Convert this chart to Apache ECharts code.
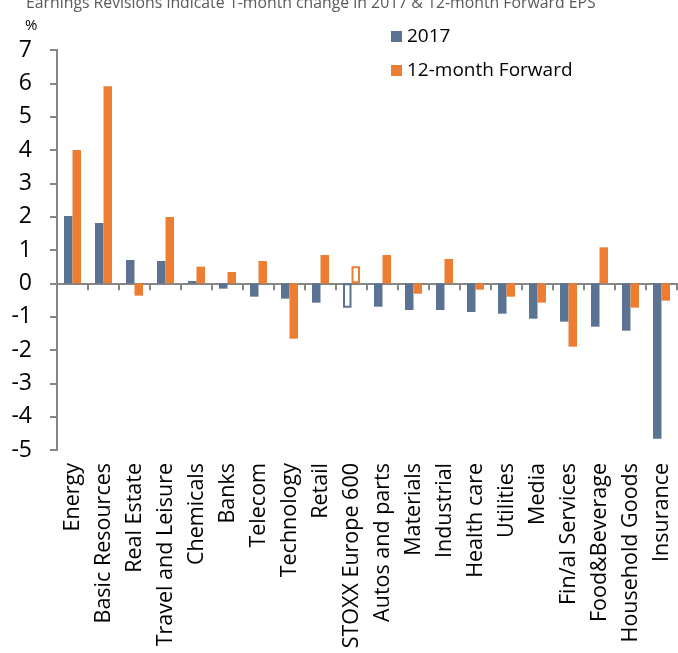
<!DOCTYPE html>
<html>
<head>
<meta charset="utf-8">
<script src="https://cdn.jsdelivr.net/npm/echarts@6/dist/echarts.min.js"></script>
<style>
  html, body { margin: 0; padding: 0; background: #fff; }
  #chart { width: 678px; height: 653px; }
</style>
</head>
<body>
<div id="chart"></div>
<script>
// data
const categories = ['Energy', 'Basic Resources', 'Real Estate', 'Travel and Leisure', 'Chemicals',
  'Banks', 'Telecom', 'Technology', 'Retail', 'STOXX Europe 600', 'Autos and parts', 'Materials',
  'Industrial', 'Health care', 'Utilities', 'Media', 'Fin/al Services', 'Food&Beverage',
  'Household Goods', 'Insurance']
const rev2017 = [2.02, 1.81, 0.7, 0.67, 0.07, -0.16, -0.4, -0.46, -0.58, -0.73, -0.7, -0.8,
  -0.8, -0.86, -0.91, -1.06, -1.15, -1.3, -1.42, -4.66]
const revFwd = [4.0, 5.91, -0.37, 1.99, 0.5, 0.34, 0.67, -1.66, 0.85, 0.51, 0.85, -0.31,
  0.73, -0.19, -0.4, -0.58, -1.9, 1.08, -0.73, -0.52]
const yTicks = [-5, -4, -3, -2, -1, 0, 1, 2, 3, 4, 5, 6, 7]

const blue = '#5b7393'
const orange = '#ed7d31'
const axisGray = '#858585'
const font = '"Open Sans", Lato, sans-serif'

// the index (STOXX Europe 600) bars are drawn hollow
const hollow = 'STOXX Europe 600'
const toItems = (vals, color) => vals.map((v, i) => categories[i] === hollow
  ? { value: v, itemStyle: { color: '#fff', borderColor: color, borderWidth: 2 } }
  : v)

const chart = echarts.init(document.getElementById('chart'))

const option = {
  animation: false,
  textStyle: { fontFamily: font },
  title: {
    text: 'Earnings Revisions indicate 1-month change in 2017 & 12-month Forward EPS',
    left: 21,
    top: -10,
    textStyle: { fontSize: 15.8, fontWeight: 'normal', color: '#595959', fontFamily: font }
  },
  graphic: [{
    type: 'text',
    left: 25,
    top: 18,
    style: { text: '%', fontSize: 15, fill: '#000', fontFamily: font }
  }],
  legend: {
    orient: 'vertical',
    left: 386,
    top: 22,
    itemWidth: 11,
    itemHeight: 11,
    itemGap: 15,
    icon: 'rect',
    textStyle: { fontSize: 19, color: '#000', fontFamily: font },
    data: ['2017', '12-month Forward']
  },
  // fixed plot box, labels are allowed to run off the bottom like in the source
  grid: { left: 57, top: 50, width: 620, height: 400, containLabel: false, outerBoundsMode: 'none' },
  xAxis: {
    type: 'category',
    data: categories,
    axisLine: { onZero: true, lineStyle: { color: axisGray, width: 2 } },
    axisTick: { show: true, length: 7, lineStyle: { color: axisGray, width: 2 } },
    axisLabel: {
      rotate: 90,
      interval: 0,
      margin: 13,
      fontSize: 21.5,
      color: '#000',
      fontFamily: font
    }
  },
  yAxis: {
    type: 'value',
    min: yTicks[0],
    max: yTicks[yTicks.length - 1],
    interval: 1,
    axisLine: { show: true, lineStyle: { color: axisGray, width: 2 } },
    axisTick: { show: true, length: 7, lineStyle: { color: axisGray, width: 2 } },
    axisLabel: { fontSize: 23, color: '#000', margin: 25, fontFamily: font },
    splitLine: { show: false }
  },
  series: [
    {
      name: '2017',
      type: 'bar',
      barWidth: 8.5,
      barGap: 0,
      itemStyle: { color: blue },
      data: toItems(rev2017, blue)
    },
    {
      name: '12-month Forward',
      type: 'bar',
      barWidth: 8.5,
      barGap: 0,
      itemStyle: { color: orange },
      data: toItems(revFwd, orange)
    }
  ]
}

chart.setOption(option)
</script>
</body>
</html>
